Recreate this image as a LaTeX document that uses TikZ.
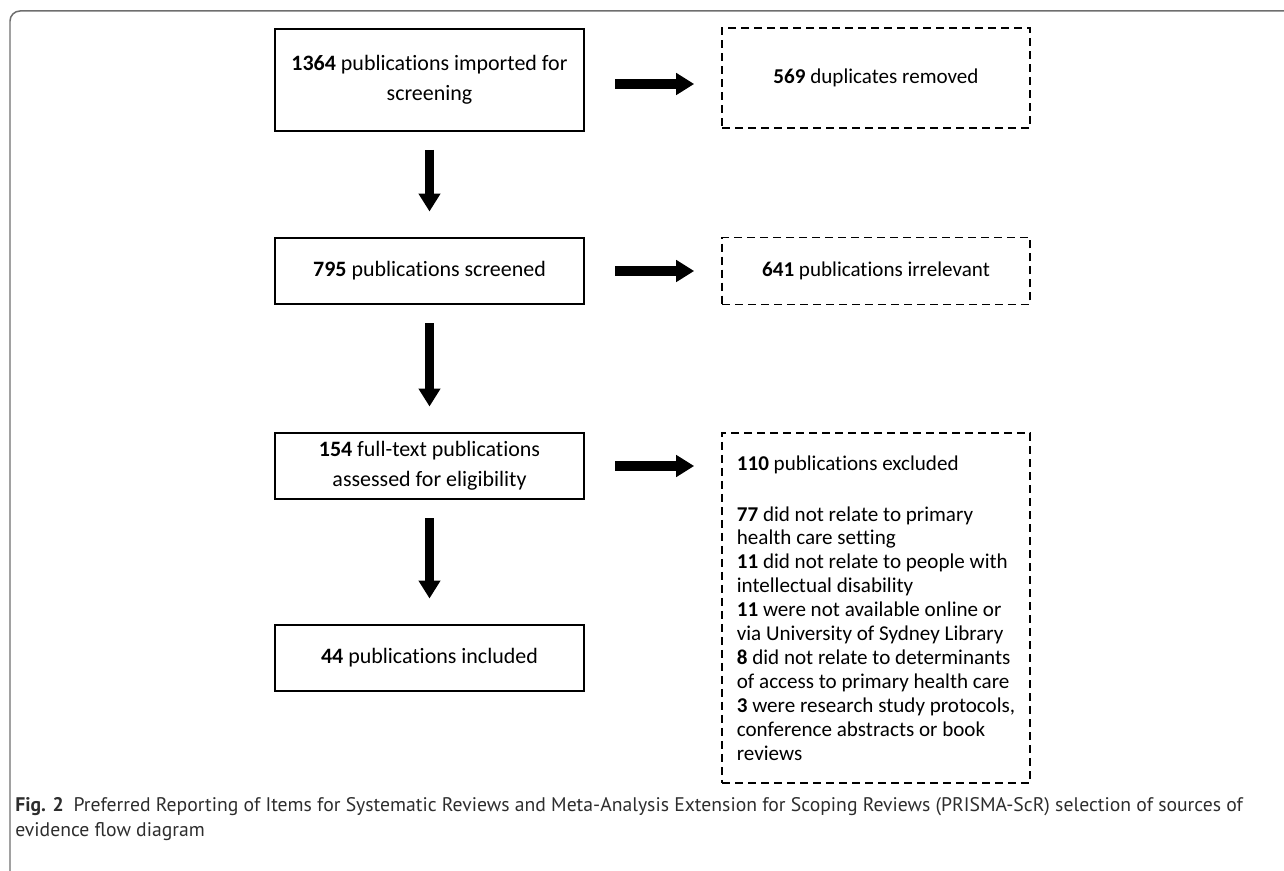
\documentclass[tikz,border=0pt]{standalone}
\usepackage{fontspec}
\setmainfont{Carlito}[Ligatures=NoCommon]
\newfontfamily\capfont{PT Sans}
\usepackage{xcolor}
\usepackage{tikz}
\usetikzlibrary{arrows.meta, positioning, calc}
\definecolor{myframe}{RGB}{110,110,110}
\definecolor{mycap}{RGB}{45,45,45}
\tikzset{
  block/.style={draw=black, line width=0.04cm, rectangle, align=center, font=\fontsize{12.5}{17}\selectfont, minimum width=6.2cm, minimum height=1.34cm},
  dblock/.style={draw=black, line width=0.035cm, dash pattern=on 0.16cm off 0.1cm, rectangle, font=\fontsize{12}{13.6}\selectfont, minimum width=6.16cm, minimum height=1.34cm},
  arrow/.style={draw=black, line width=0.19cm, -{Triangle[length=0.36cm, width=0.42cm]}},
  rarrow/.style={arrow, shorten <=0.6cm, shorten >=0.54cm},
  darrow/.style={arrow, shorten <=0.36cm, shorten >=0.5cm}
}

\begin{document}
\begin{tikzpicture}[x=0.02cm, y=-0.02cm]
  \useasboundingbox (0,0) rectangle (1284,871);
  % frame of the figure
  \draw [myframe, line width=0.03cm, rounded corners=0.2cm] (10,871) -- (10,11) -- (1284,11);

  % main flow (left)
  \node [block, minimum height=2.04cm] (imported) at (429.5,80) {\textbf{1364} publications imported for\\screening};
  \node [block] (screened) at (429.5,271) {\textbf{795} publications screened};
  \node [block] (fulltext) at (429.5,466) {\textbf{154} full-text publications\\assessed for eligibility};
  \node [block] (included) at (429.5,658) {\textbf{44} publications included};

  % removed records (right)
  \node [dblock, minimum height=2.0cm] (dupes) at (876,78) {\textbf{569} duplicates removed};
  \node [dblock] (irrelevant) at (876,271) {\textbf{641} publications irrelevant};
  \node [dblock, anchor=north, align=left, minimum height=7.0cm] (excluded) at (876,432) {%
    \textbf{110} publications excluded\\[15.4pt]
    \textbf{77} did not relate to primary\\
    health care setting\\
    \textbf{11} did not relate to people with\\
    intellectual disability\\
    \textbf{11} were not available online or\\
    via University of Sydney Library\\
    \textbf{8} did not relate to determinants\\
    of access to primary health care\\
    \textbf{3} were research study protocols,\\
    conference abstracts or book\\
    reviews};

  \draw [darrow] (imported) -- (screened);
  \draw [darrow] (screened) -- (fulltext);
  \draw [darrow] (fulltext) -- (included);
  \draw [rarrow] ([yshift=-0.08cm]imported.east) -- ([yshift=-0.08cm]imported.east -| dupes.west);
  \draw [rarrow] (screened.east) -- (screened.east -| irrelevant.west);
  \draw [rarrow] (fulltext.east) -- (fulltext.east -| excluded.west);

  % caption
  \node [anchor=north west, align=left, inner sep=0pt, text=mycap, font=\capfont\fontsize{11.2}{14.2}\selectfont] (caption) at (15,797) {\textbf{Fig. 2}\hspace{0.5em}Preferred Reporting of Items for Systematic Reviews and Meta-Analysis Extension for Scoping Reviews (PRISMA-ScR) selection of sources of\\evidence flow diagram};
\end{tikzpicture}
\end{document}
